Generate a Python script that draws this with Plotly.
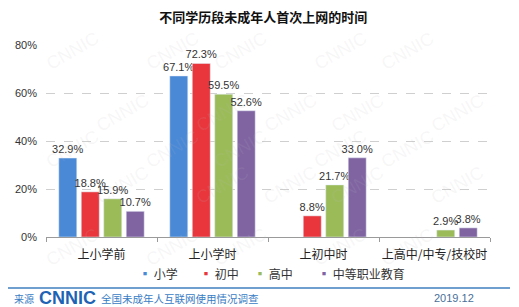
import plotly.graph_objects as go

categories = ["上小学前", "上小学时", "上初中时", "上高中/中专/技校时"]
series_names = ["小学", "初中", "高中", "中等职业教育"]
primary = [32.9, 67.1, None, None]
junior = [18.8, 72.3, 8.8, None]
senior = [15.9, 59.5, 21.7, 2.9]
vocational = [10.7, 52.6, 33.0, 3.8]
y_ticks = [0, 20, 40, 60, 80]
y_tick_labels = ["0%", "20%", "40%", "60%", "80%"]

colors = ["#4a89d6", "#e8363c", "#9bbb59", "#8064a2"]
values = [primary, junior, senior, vocational]

W, H = 519, 307
ML, MR, MT, MB = 46, 29, 45, 70
PW, PH = W - ML - MR, H - MT - MB

def px(x):
    return (x - ML) / PW

def py(y):
    return (H - MB - y) / PH

FONT = "Liberation Sans, Noto Sans CJK SC, sans-serif"
CJK = "Noto Sans CJK SC, sans-serif"

fig = go.Figure()
for name, vals, c in zip(series_names, values, colors):
    fig.add_trace(go.Bar(
        x=categories, y=vals, name=name, marker_color=c,
        text=[None if v is None else f"{v:.1f}%" for v in vals],
        textposition="outside", constraintext="none", cliponaxis=False,
        textfont=dict(size=11, color="#333333", family=FONT),
        showlegend=False,
    ))

fig.update_layout(
    width=W, height=H,
    margin=dict(l=ML, r=MR, t=MT, b=MB),
    paper_bgcolor="white", plot_bgcolor="white",
    barmode="group", bargap=0.19, bargroupgap=0.2,
    title=dict(text="<b>不同学历段未成年人首次上网的时间</b>", x=0.507, xanchor="center",
               y=1 - 17 / H, yanchor="middle",
               font=dict(size=13, color="#111111", family=CJK)),
    showlegend=False,
    font=dict(family=FONT),
)
fig.update_xaxes(
    showline=True, linecolor="#9a9a9a", linewidth=1,
    ticks="outside", tickson="boundaries", ticklen=4, tickcolor="#9a9a9a",
    tickfont=dict(size=12, color="#222222", family=CJK),
    tickangle=0, showgrid=False, ticklabelstandoff=7,
)
fig.update_yaxes(
    range=[0, 80], tickvals=y_ticks, ticktext=y_tick_labels,
    showgrid=True, gridcolor="#cfcfcf", griddash="dash", gridwidth=1,
    zeroline=False, showline=False,
    tickfont=dict(size=11, color="#333333", family=FONT),
    ticklabelstandoff=8,
)

# legend (series names with coloured markers)
legend_x = [137, 198, 252, 316]
for name, c, lx in zip(series_names, colors, legend_x):
    fig.add_annotation(text=f"<span style='color:{c}'>▪</span> {name}", xref="paper", yref="paper",
                       x=px(lx), y=py(273), xanchor="left", yanchor="middle", showarrow=False,
                       font=dict(size=12, color="#333333", family=CJK))

# footer line
fig.add_shape(type="line", xref="paper", yref="paper",
              x0=px(8), x1=px(510), y0=py(288), y1=py(288),
              line=dict(color="#3f7fbf", width=1.5))
fig.add_annotation(text="来源", xref="paper", yref="paper", x=px(12), y=py(298),
                   xanchor="left", yanchor="middle", showarrow=False,
                   font=dict(size=10, color="#3a7cc4", family=CJK))
fig.add_annotation(text="<b>CNNIC</b>", xref="paper", yref="paper", x=px(37), y=py(298),
                   xanchor="left", yanchor="middle", showarrow=False,
                   font=dict(size=18, color="#1f63b4", family="Liberation Sans, sans-serif"))
fig.add_annotation(text="全国未成年人互联网使用情况调查", xref="paper", yref="paper", x=px(99), y=py(298),
                   xanchor="left", yanchor="middle", showarrow=False,
                   font=dict(size=10.5, color="#3a7cc4", family=CJK))
fig.add_annotation(text="2019.12", xref="paper", yref="paper", x=px(476), y=py(298),
                   xanchor="right", yanchor="middle", showarrow=False,
                   font=dict(size=11, color="#4a6f9a", family=FONT))

# faint watermarks
for row in range(5):
    for col in range(5):
        xw = 40 + col * 100 + (row % 2) * 50
        yw = 25 + row * 62
        fig.add_annotation(text="CNNIC", xref="paper", yref="paper", x=px(xw), y=py(yw),
                           showarrow=False, textangle=-30,
                           font=dict(size=18, color="rgba(190,190,190,0.12)", family="Liberation Sans, sans-serif"))

fig.write_html("out.html")
